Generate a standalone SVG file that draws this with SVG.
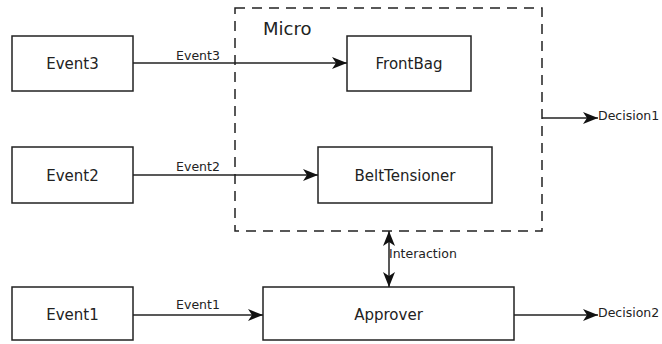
<svg xmlns="http://www.w3.org/2000/svg" width="662" height="344" viewBox="0 0 662 344">
<defs>
<marker id="ah" viewBox="0 0 15 12" refX="15" refY="6" markerWidth="15" markerHeight="12" markerUnits="userSpaceOnUse" orient="auto-start-reverse">
<path d="M0,0 L15,6 L0,12 L4,6 Z" fill="#111"/>
</marker>
<style>
.box{fill:#fff;stroke:#222;stroke-width:1.5}
.lbl{font-family:"DejaVu Sans",sans-serif;font-size:15px;fill:#222;text-anchor:middle}
.cl{font-family:"DejaVu Sans",sans-serif;font-size:12.5px;fill:#222}
.ln{stroke:#222;stroke-width:1.5;fill:none}
</style>
</defs>
<g id="micro">
<rect x="235" y="8" width="307" height="223" fill="none" stroke="#222" stroke-width="1.5" stroke-dasharray="10,7"/>
<text x="263" y="35" style="font-family:'DejaVu Sans',sans-serif;font-size:18px;fill:#222">Micro</text>
</g>
<g id="event3"><rect class="box" x="12" y="36" width="121" height="55"/><text class="lbl" x="72.5" y="69">Event3</text></g>
<g id="event2"><rect class="box" x="12" y="147" width="121" height="56"/><text class="lbl" x="72.5" y="181">Event2</text></g>
<g id="event1"><rect class="box" x="12" y="287" width="121" height="53"/><text class="lbl" x="72.5" y="320">Event1</text></g>
<g id="frontbag"><rect class="box" x="347" y="36" width="124" height="55"/><text class="lbl" x="409" y="69">FrontBag</text></g>
<g id="belttensioner"><rect class="box" x="318" y="147" width="174" height="56"/><text class="lbl" x="405" y="181">BeltTensioner</text></g>
<g id="approver"><rect class="box" x="263" y="287" width="251" height="53"/><text class="lbl" x="388.5" y="320">Approver</text></g>
<g id="connectors">
<line class="ln" x1="133" y1="63" x2="347" y2="63" marker-end="url(#ah)"/>
<text class="cl" x="198" y="60" text-anchor="middle">Event3</text>
<line class="ln" x1="133" y1="175" x2="318" y2="175" marker-end="url(#ah)"/>
<text class="cl" x="198" y="171" text-anchor="middle">Event2</text>
<line class="ln" x1="133" y1="315" x2="263" y2="315" marker-end="url(#ah)"/>
<text class="cl" x="198" y="309" text-anchor="middle">Event1</text>
<line class="ln" x1="542" y1="118" x2="598" y2="118" marker-end="url(#ah)"/>
<text class="cl" x="598" y="120">Decision1</text>
<line class="ln" x1="514" y1="315" x2="598" y2="315" marker-end="url(#ah)"/>
<text class="cl" x="598" y="317">Decision2</text>
<line class="ln" x1="389" y1="231" x2="389" y2="287" marker-start="url(#ah)" marker-end="url(#ah)"/>
<text class="cl" x="389" y="258">Interaction</text>
</g>
</svg>
